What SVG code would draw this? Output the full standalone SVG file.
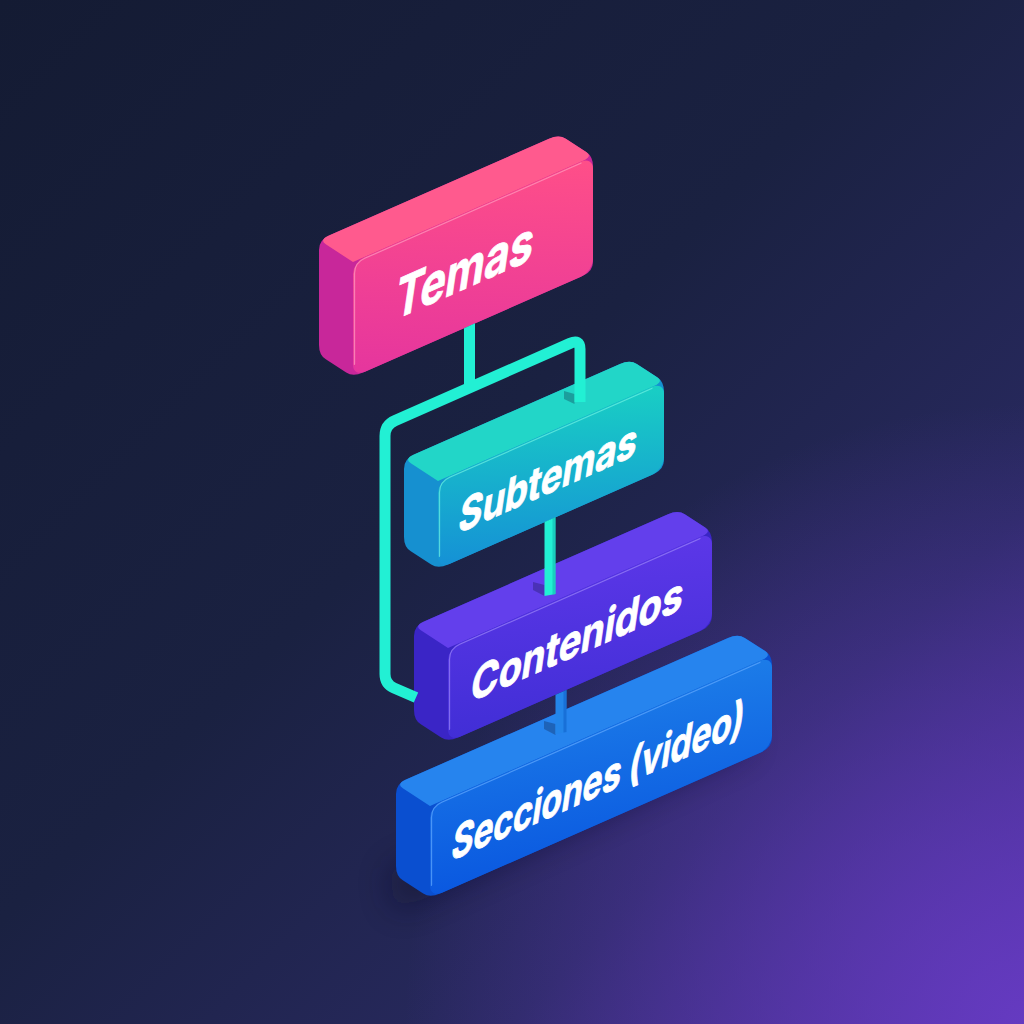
<svg xmlns="http://www.w3.org/2000/svg" width="1024" height="1024" viewBox="0 0 1024 1024">
  <defs>
    <linearGradient id="bg" x1="0" y1="0" x2="1024" y2="1024" gradientUnits="userSpaceOnUse">
      <stop offset="0" stop-color="#141b33"/>
      <stop offset="0.45" stop-color="#1a2141"/>
      <stop offset="0.75" stop-color="#28295f"/>
      <stop offset="1" stop-color="#4a3199"/>
    </linearGradient>
    <radialGradient id="glow" cx="1024" cy="1024" r="620" gradientUnits="userSpaceOnUse">
      <stop offset="0" stop-color="#6a3cc8" stop-opacity="0.85"/>
      <stop offset="1" stop-color="#6a3cc8" stop-opacity="0"/>
    </radialGradient>

    <!-- front face gradients (local box coordinates) -->
    <linearGradient id="frontPink" x1="0" y1="1" x2="1" y2="0">
      <stop offset="0" stop-color="#e5359e"/>
      <stop offset="1" stop-color="#ff4f88"/>
    </linearGradient>
    <linearGradient id="frontTeal" x1="0" y1="1" x2="1" y2="0">
      <stop offset="0" stop-color="#1590d6"/>
      <stop offset="1" stop-color="#19d0c4"/>
    </linearGradient>
    <linearGradient id="frontViolet" x1="0" y1="1" x2="1" y2="0">
      <stop offset="0" stop-color="#412ed6"/>
      <stop offset="1" stop-color="#5c37e8"/>
    </linearGradient>
    <linearGradient id="frontBlue" x1="0" y1="1" x2="1" y2="0">
      <stop offset="0" stop-color="#0a58e0"/>
      <stop offset="1" stop-color="#1c7ce8"/>
    </linearGradient>

    <filter id="soft" x="-30%" y="-30%" width="160%" height="160%">
      <feGaussianBlur stdDeviation="16"/>
    </filter>

    <style>
      .label { font-family: Inter, "Liberation Sans", Arial, sans-serif; font-weight: 700; fill: #ffffff; stroke: #ffffff; stroke-width: 0.8; }
      .hl { fill: none; stroke-width: 1.3; stroke-linecap: round; }
      .bus { fill: none; stroke: #22f0d4; stroke-width: 11; stroke-linejoin: round; }
      .post { fill: #22f0d4; }
      .postShade { fill: #14b8b0; }
      .footShadow { fill: #0b1030; opacity: 0.28; }
    </style>
  </defs>

  <!-- backdrop -->
  <rect width="1024" height="1024" fill="url(#bg)"/>
  <rect width="1024" height="1024" fill="url(#glow)"/>

  <!-- soft shadow below the lowest slab -->
  <polygon points="388,872 740,718 750,748 396,912" fill="#0a0c26" opacity="0.45" filter="url(#soft)"/>

  <!-- Temas -->
  <g id="node-temas" transform="matrix(1,-0.44,0,1,353,262)">
    <path fill="#c8279a" d="M10,115 L230,115 Q240,115 240,105 L240,10 Q240,0 233.2,-7.4 L212.8,-29.6 Q206,-37 196,-37 L-24,-37 Q-34,-37 -34,-27 L-34,68 Q-34,78 -27.2,85.4 L-6.8,107.6 Q0,115 10,115 Z"/>
    <path fill="#ff5a8e" d="M0,0 L230,0 Q240,0 233.2,-7.4 L212.8,-29.6 Q206,-37 196,-37 L-24,-37 Q-34,-37 -27.2,-29.6 Z"/>
    <rect x="0" y="0" width="240" height="115" rx="12" fill="url(#frontPink)"/>
    <path class="hl" stroke="#ff9cc0" stroke-opacity="0.7" d="M1.5,103 L1.5,12 Q1.5,1.5 12,1.5 L228,1.5"/>
    <g transform="translate(109,76) skewX(-9)">
      <text class="label" x="0" y="0" font-size="54" text-anchor="middle" textLength="138" lengthAdjust="spacingAndGlyphs">Temas</text>
    </g>
  </g>

  <!-- Subtemas -->
  <g id="node-subtemas" transform="matrix(1,-0.44,0,1,438,481)">
    <path fill="#1690d0" d="M10,88 L216,88 Q226,88 226,78 L226,10 Q226,0 219.2,-7.4 L198.8,-29.6 Q192,-37 182,-37 L-24,-37 Q-34,-37 -34,-27 L-34,41 Q-34,51 -27.2,58.4 L-6.8,80.6 Q0,88 10,88 Z"/>
    <path fill="#22d6c8" d="M0,0 L216,0 Q226,0 219.2,-7.4 L198.8,-29.6 Q192,-37 182,-37 L-24,-37 Q-34,-37 -27.2,-29.6 Z"/>
    <rect x="0" y="0" width="226" height="88" rx="12" fill="url(#frontTeal)"/>
    <path class="hl" stroke="#6ff2e4" stroke-opacity="0.7" d="M1.5,76 L1.5,12 Q1.5,1.5 12,1.5 L214,1.5"/>
    <g transform="translate(108,61) skewX(-9)">
      <text class="label" x="0" y="0" font-size="44" text-anchor="middle" textLength="178" lengthAdjust="spacingAndGlyphs">Subtemas</text>
    </g>
  </g>

  <!-- Contenidos -->
  <g id="node-contenidos" transform="matrix(1,-0.44,0,1,448,648)">
    <path fill="#3a25c6" d="M10,94 L254,94 Q264,94 264,84 L264,10 Q264,0 257.2,-7.4 L236.8,-29.6 Q230,-37 220,-37 L-24,-37 Q-34,-37 -34,-27 L-34,47 Q-34,57 -27.2,64.4 L-6.8,86.6 Q0,94 10,94 Z"/>
    <path fill="#633fec" d="M0,0 L254,0 Q264,0 257.2,-7.4 L236.8,-29.6 Q230,-37 220,-37 L-24,-37 Q-34,-37 -27.2,-29.6 Z"/>
    <rect x="0" y="0" width="264" height="94" rx="12" fill="url(#frontViolet)"/>
    <path class="hl" stroke="#9b84fa" stroke-opacity="0.7" d="M1.5,82 L1.5,12 Q1.5,1.5 12,1.5 L252,1.5"/>
    <g transform="translate(127,64) skewX(-9)">
      <text class="label" x="0" y="0" font-size="45" text-anchor="middle" textLength="212" lengthAdjust="spacingAndGlyphs">Contenidos</text>
    </g>
  </g>

  <!-- Secciones (video) -->
  <g id="node-secciones" transform="matrix(1,-0.44,0,1,430,806)">
    <path fill="#0a4fd0" d="M10,92 L332,92 Q342,92 342,82 L342,10 Q342,0 335.2,-7.4 L314.8,-29.6 Q308,-37 298,-37 L-24,-37 Q-34,-37 -34,-27 L-34,45 Q-34,55 -27.2,62.4 L-6.8,84.6 Q0,92 10,92 Z"/>
    <path fill="#2684ee" d="M0,0 L332,0 Q342,0 335.2,-7.4 L314.8,-29.6 Q308,-37 298,-37 L-24,-37 Q-34,-37 -27.2,-29.6 Z"/>
    <rect x="0" y="0" width="342" height="92" rx="12" fill="url(#frontBlue)"/>
    <path class="hl" stroke="#62aaff" stroke-opacity="0.7" d="M1.5,80 L1.5,12 Q1.5,1.5 12,1.5 L330,1.5"/>
    <g transform="translate(166,64) skewX(-9)">
      <text class="label" x="0" y="0" font-size="45" text-anchor="middle" textLength="292" lengthAdjust="spacingAndGlyphs">Secciones (video)</text>
    </g>
  </g>

  <!-- connectors -->
  <g id="connectors">
    <!-- bus from Temas splitting to Subtemas and down to Contenidos -->
    <polygon class="footShadow" points="574.5,394 574.5,404 564,399 564,391"/>
    <path class="bus" d="M416,697.5 L394,688 Q385,684 385,674 L385,436 Q385,425 395,420.6 L570,343.4 Q580,339 580,349 L580,402"/>
    <polygon class="post" points="464,328.2 475,323.3 475,390 464,390"/>
    <!-- Subtemas to Contenidos -->
    <polygon class="footShadow" points="544.5,585 544.5,596 533,590 533,582"/>
    <polygon class="post" points="544.5,522.1 555.5,517.3 555.5,594 544.5,596"/>
    <polygon class="postShade" points="552.5,518.6 555.5,517.3 555.5,594 552.5,595" opacity="0.6"/>
    <!-- Contenidos to Secciones -->
    <polygon class="footShadow" points="555.5,724 555.5,735 544,729 544,721"/>
    <polygon points="555.5,694.7 566.5,689.9 566.5,732 555.5,734" fill="#2385ea"/>
    <polygon points="563.5,691.2 566.5,689.9 566.5,732 563.5,732.5" fill="#1466d0" opacity="0.7"/>
  </g>
</svg>
